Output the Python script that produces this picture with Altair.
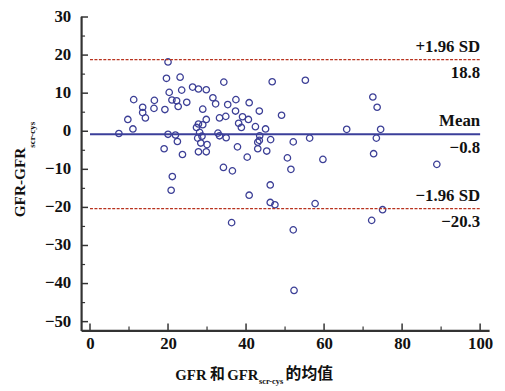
import altair as alt
import pandas as pd

# Bland-Altman data: mean of GFR and GFRscr-cys (x) and difference (y)
mean_x = [20.0, 19.6, 23.1, 26.3, 27.8, 29.8, 34.3, 46.7, 55.2, 11.2,
          16.5, 20.3, 21.0, 22.2, 23.5, 24.8, 22.6, 13.5, 13.5, 14.2,
          9.7, 11.0, 7.4, 16.4, 19.2, 20.0, 21.9, 22.4, 19.0, 23.7,
          31.5, 32.2, 28.9, 29.8, 27.8, 27.3, 28.9, 28.1, 28.7, 27.6,
          28.4, 30.0, 27.8, 29.8, 35.3, 37.4, 37.3, 40.8, 43.4, 33.2,
          34.8, 39.1, 38.1, 38.8, 40.6, 42.4, 45.0, 49.1, 32.8, 33.2,
          34.9, 37.8, 40.3, 43.5, 43.4, 43.0, 43.0, 45.3, 46.3, 50.6,
          52.1, 51.5, 34.2, 36.5, 72.5, 73.6, 65.8, 74.5, 73.4, 56.3,
          59.7, 72.7, 88.9, 57.7, 75.0, 72.2, 52.1, 52.3, 21.1, 20.8,
          46.2, 40.8, 46.2, 47.4, 36.3]
diff_y = [18.2, 13.9, 14.2, 11.6, 11.1, 10.9, 12.9, 13.0, 13.4, 8.3,
          8.1, 10.2, 8.2, 8.0, 10.8, 7.6, 6.5, 6.3, 4.9, 3.5,
          3.1, 0.6, -0.6, 6.0, 5.7, -0.8, -1.0, -2.7, -4.6, -6.1,
          8.8, 7.2, 5.8, 3.1, 1.9, 1.0, 1.7, -0.3, -1.3, -1.8,
          -3.1, -3.5, -5.4, -5.4, 7.0, 8.3, 5.3, 7.5, 5.3, 3.5,
          3.9, 3.8, 2.1, 1.0, 3.1, 1.2, 0.6, 4.2, -0.5, -1.2,
          -1.7, -4.1, -6.8, -1.2, -2.4, -2.9, -4.6, -5.2, -2.2, -7.0,
          -2.8, -10.0, -9.5, -10.4, 9.0, 6.3, 0.5, 0.5, -1.8, -1.8,
          -7.4, -5.9, -8.7, -19.0, -20.6, -23.4, -25.9, -41.8, -11.9, -15.5,
          -14.1, -16.8, -18.7, -19.3, -24.0]

line_names = ["upper", "mean", "lower"]
line_values = [18.8, -0.8, -20.3]
line_top_text = ["+1.96 SD", "Mean", "\u22121.96 SD"]
line_bottom_text = ["18.8", "\u22120.8", "\u221220.3"]

y_major = [-50, -40, -30, -20, -10, 0, 10, 20, 30]
y_labels = ["\u221250", "\u221240", "\u221230", "\u221220", "\u221210", "0", "10", "20", "30"]
y_minor = [-45, -35, -25, -15, -5, 5, 15, 25]
x_major = [0, 20, 40, 60, 80, 100]
x_minor = [10, 30, 50, 70, 90]

X_DOMAIN = [-2.28, 102.3]
Y_DOMAIN = [-52.3, 30.2]
W, H = 413, 318
SERIF = "Liberation Serif"
CJK = "Noto Sans CJK SC"
AXIS_COL = "#333333"
PT_COL = "#3c3f96"
RED = "#b8321e"

xs = alt.Scale(domain=X_DOMAIN, nice=False, zero=False)
ys = alt.Scale(domain=Y_DOMAIN, nice=False, zero=False)

pts = pd.DataFrame({"x": mean_x, "y": diff_y})
lines = pd.DataFrame({"name": line_names, "v": line_values,
                      "top": line_top_text, "bottom": line_bottom_text,
                      "x0": [0] * 3, "x1": [100] * 3})

base_axes = alt.Chart(pts).mark_point(
    shape="circle", filled=False, size=42, strokeWidth=1.3, color=PT_COL, opacity=1
).encode(
    x=alt.X("x:Q", scale=xs, axis=alt.Axis(
        values=x_major, title=None, grid=False, ticks=False, tickSize=0,
        domainColor=AXIS_COL, domainWidth=2.2, labelFont=SERIF, labelFontSize=17,
        labelFontWeight="bold", labelColor="#111", labelPadding=5, labelFlush=False,
        labelOverlap=False)),
    y=alt.Y("y:Q", scale=ys, axis=alt.Axis(
        values=y_major, title=None, grid=False, ticks=False, tickSize=0, labels=False,
        domainColor=AXIS_COL, domainWidth=2.2)),
)

mean_rule = alt.Chart(lines[lines.name == "mean"]).mark_rule(
    color="#3b3f9a", strokeWidth=2).encode(
    x=alt.X("x0:Q", scale=xs), x2="x1:Q", y=alt.Y("v:Q", scale=ys))

sd_rules = alt.Chart(lines[lines.name != "mean"]).mark_rule(
    color=RED, strokeWidth=1.2, strokeDash=[3, 1.5]).encode(
    x=alt.X("x0:Q", scale=xs), x2="x1:Q", y=alt.Y("v:Q", scale=ys))

top_txt = alt.Chart(lines).mark_text(
    align="right", baseline="middle", dy=-13, font=SERIF, fontSize=17,
    fontWeight="bold", color="#111").encode(
    x=alt.X("x1:Q", scale=xs), y=alt.Y("v:Q", scale=ys), text="top:N")

bot_txt = alt.Chart(lines).mark_text(
    align="right", baseline="middle", dy=14, font=SERIF, fontSize=17,
    fontWeight="bold", color="#111").encode(
    x=alt.X("x1:Q", scale=xs), y=alt.Y("v:Q", scale=ys), text="bottom:N")

# y tick labels
ylab = alt.Chart(pd.DataFrame({"t": y_major, "lab": y_labels})).mark_text(
    align="right", baseline="middle", font=SERIF, fontSize=17, fontWeight="bold",
    color="#111").encode(
    y=alt.Y("t:Q", scale=ys), x=alt.value(-10), text="lab:N")

# inward ticks
ymaj = alt.Chart(pd.DataFrame({"t": y_major})).mark_rule(color=AXIS_COL, strokeWidth=1.5).encode(
    y=alt.Y("t:Q", scale=ys), x=alt.value(0), x2=alt.value(7))
ymin = alt.Chart(pd.DataFrame({"t": y_minor})).mark_rule(color=AXIS_COL, strokeWidth=1.2).encode(
    y=alt.Y("t:Q", scale=ys), x=alt.value(0), x2=alt.value(4))
xmaj = alt.Chart(pd.DataFrame({"t": x_major})).mark_rule(color=AXIS_COL, strokeWidth=1.5).encode(
    x=alt.X("t:Q", scale=xs), y=alt.value(H), y2=alt.value(H - 7))
xmin = alt.Chart(pd.DataFrame({"t": x_minor})).mark_rule(color=AXIS_COL, strokeWidth=1.2).encode(
    x=alt.X("t:Q", scale=xs), y=alt.value(H), y2=alt.value(H - 4))

one = pd.DataFrame({"a": [0]})

def label(text, x, y, size, align, font=SERIF, angle=0, baseline="middle"):
    kw = dict(text=text, align=align, baseline=baseline, font=font,
              fontSize=size, fontWeight="bold", color="#111")
    if angle:
        kw["angle"] = angle
    return alt.Chart(one).mark_text(**kw).encode(x=alt.value(x), y=alt.value(y))

# plot origin is at screen (82, 14)
ytitle_main = label("GFR-GFR", -62, 133, 15.5, "right", angle=270)
ytitle_sub = label("scr-cys", -50, 133, 9, "left", angle=270)
xt1 = label("GFR", 127, 363, 15, "right")
xt2 = label("和", 138, 362, 15, "center", font=CJK)
xt3 = label("GFR", 148, 363, 15, "left")
xt4 = label("scr-cys", 180, 369, 8.5, "left")
xt5 = label("的均值", 207, 362, 16, "left", font=CJK)

chart = alt.layer(
    base_axes, sd_rules, mean_rule, top_txt, bot_txt, ylab,
    ymaj, ymin, xmaj, xmin,
    ytitle_main, ytitle_sub, xt1, xt2, xt3, xt4, xt5,
).properties(
    width=W, height=H,
    autosize=alt.AutoSizeParams(type="none"),
    padding={"left": 74, "top": 6, "right": 8, "bottom": 59},
    background="white",
).configure_view(stroke=None)

chart.save("out.html", embed_options={"renderer": "svg", "actions": False})
